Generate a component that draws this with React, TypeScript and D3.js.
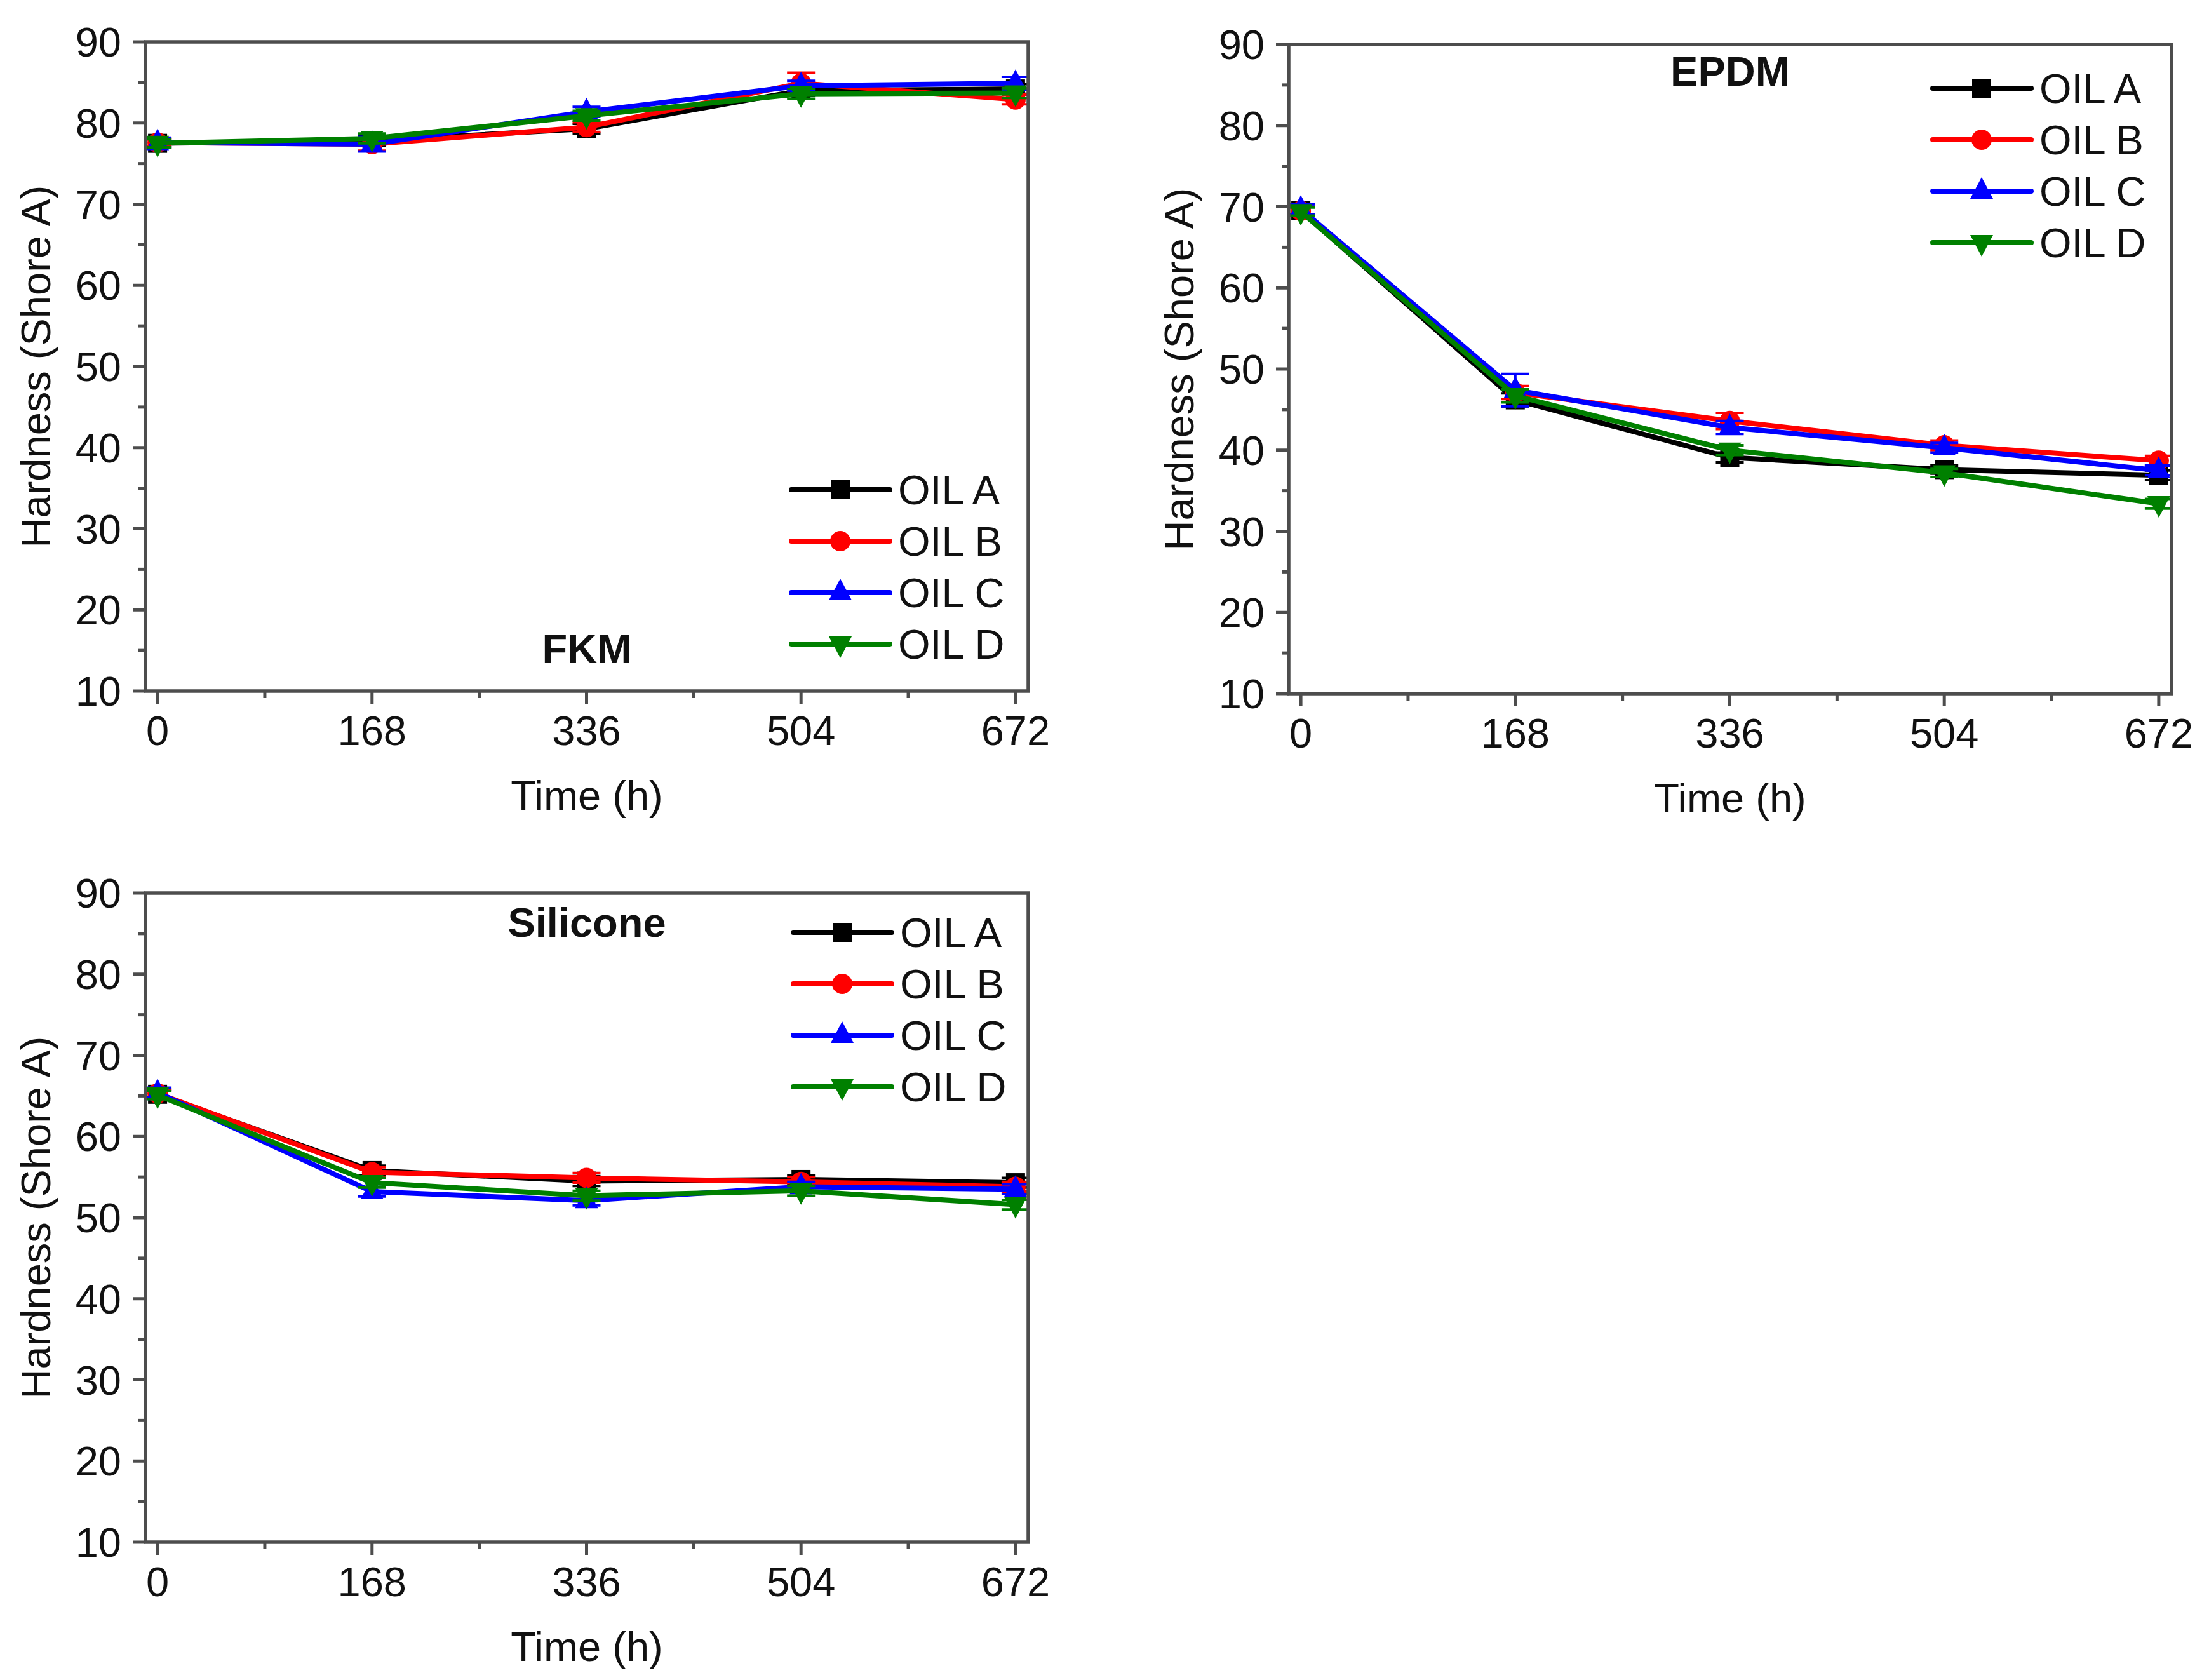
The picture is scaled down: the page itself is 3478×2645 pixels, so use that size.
import React, { useEffect, useRef } from 'react';
import * as d3 from 'd3';

// time points (h)
const times = [0, 168, 336, 504, 672];
const xTicks = [0, 168, 336, 504, 672];
const xMinor = [84, 252, 420, 588];
const yTicks = [10, 20, 30, 40, 50, 60, 70, 80, 90];
const yMinor = [15, 25, 35, 45, 55, 65, 75, 85];
const seriesNames = ['OIL A', 'OIL B', 'OIL C', 'OIL D'];
const seriesColors = ['#000000', '#ff0000', '#0000ff', '#008000'];

// FKM
const fkmA = [77.5, 77.8, 79.3, 84.0, 84.2];
const fkmB = [77.6, 77.4, 79.5, 84.9, 82.9];
const fkmC = [77.6, 77.4, 81.4, 84.6, 84.9];
const fkmD = [77.5, 78.1, 80.9, 83.6, 83.7];
const fkmErrA = [0.5, 0.6, 0.6, 0.6, 0.6];
const fkmErrB = [0.5, 0.8, 0.6, 1.3, 0.6];
const fkmErrC = [0.6, 0.9, 0.6, 0.6, 0.8];
const fkmErrD = [0.5, 0.6, 0.6, 0.6, 0.6];

// EPDM
const epdmA = [69.5, 46.2, 39.1, 37.6, 36.9];
const epdmB = [69.5, 47.1, 43.6, 40.6, 38.7];
const epdmC = [69.7, 47.4, 42.8, 40.3, 37.5];
const epdmD = [69.4, 46.7, 40.0, 37.2, 33.4];
const epdmErrA = [0.5, 0.8, 0.6, 0.5, 0.6];
const epdmErrB = [0.5, 0.8, 1.0, 0.6, 0.6];
const epdmErrC = [0.6, 2.0, 0.8, 0.6, 0.6];
const epdmErrD = [0.5, 0.8, 0.6, 0.5, 0.6];

// Silicone
const silA = [65.2, 55.8, 54.5, 54.7, 54.3];
const silB = [65.3, 55.6, 54.9, 54.4, 53.8];
const silC = [65.4, 53.2, 52.1, 53.8, 53.5];
const silD = [65.1, 54.3, 52.7, 53.3, 51.6];
const silErrA = [0.5, 0.6, 0.6, 0.5, 0.6];
const silErrB = [0.5, 0.6, 0.6, 0.6, 0.6];
const silErrC = [0.6, 0.6, 0.6, 0.6, 0.6];
const silErrD = [0.5, 0.6, 0.6, 0.6, 0.6];

const W = 1390;
const H = 1022;
const FONT = 'Arial, "Liberation Sans", sans-serif';
const FS = 65;
const AXIS_COLOR = '#4d4d4d';

const panels = [
  { name: 'FKM', left: 229, top: 66, series: [fkmA, fkmB, fkmC, fkmD], errs: [fkmErrA, fkmErrB, fkmErrC, fkmErrD], legendX: 1017, legendY: 705, titleY: 978 },
  { name: 'EPDM', left: 2029, top: 70, series: [epdmA, epdmB, epdmC, epdmD], errs: [epdmErrA, epdmErrB, epdmErrC, epdmErrD], legendX: 1014, legendY: 69, titleY: 65 },
  { name: 'Silicone', left: 229, top: 1406, series: [silA, silB, silC, silD], errs: [silErrA, silErrB, silErrC, silErrD], legendX: 1020, legendY: 62, titleY: 69 },
];

// marker path for each series (square, circle, up triangle, down triangle)
const markerPath = (i: number) => {
  if (i === 0) return 'M-15,-15H15V15H-15Z';
  if (i === 1) return d3.symbol(d3.symbolCircle, Math.PI * 16 * 16)() as string;
  if (i === 2) return 'M0,-22L18,12L-18,12Z';
  return 'M0,22L18,-12L-18,-12Z';
};

const App: React.FC = () => {
  const svgRef = useRef<SVGSVGElement | null>(null);

  useEffect(() => {
    const svg = d3.select(svgRef.current);
    svg.selectAll('*').remove();

    panels.forEach((p) => {
      const x = d3.scaleLinear().domain([-9.5, 682]).range([0, W]);
      const y = d3.scaleLinear().domain([10, 90]).range([H, 0]);
      const g = svg.append('g').attr('transform', `translate(${p.left},${p.top})`);

      // ticks (outward)
      g.selectAll('.xt').data(xTicks).enter().append('line')
        .attr('x1', d => x(d)).attr('x2', d => x(d)).attr('y1', H).attr('y2', H + 20)
        .attr('stroke', AXIS_COLOR).attr('stroke-width', 5);
      g.selectAll('.xm').data(xMinor).enter().append('line')
        .attr('x1', d => x(d)).attr('x2', d => x(d)).attr('y1', H).attr('y2', H + 11)
        .attr('stroke', AXIS_COLOR).attr('stroke-width', 5);
      g.selectAll('.yt').data(yTicks).enter().append('line')
        .attr('x1', -20).attr('x2', 0).attr('y1', d => y(d)).attr('y2', d => y(d))
        .attr('stroke', AXIS_COLOR).attr('stroke-width', 5);
      g.selectAll('.ym').data(yMinor).enter().append('line')
        .attr('x1', -11).attr('x2', 0).attr('y1', d => y(d)).attr('y2', d => y(d))
        .attr('stroke', AXIS_COLOR).attr('stroke-width', 5);

      // tick labels
      g.selectAll('.xl').data(xTicks).enter().append('text')
        .attr('x', d => x(d)).attr('y', H + 85)
        .attr('text-anchor', 'middle').attr('font-family', FONT).attr('font-size', FS).attr('fill', '#111')
        .text(d => String(d));
      g.selectAll('.yl').data(yTicks).enter().append('text')
        .attr('x', -38).attr('y', d => y(d) + 23)
        .attr('text-anchor', 'end').attr('font-family', FONT).attr('font-size', FS).attr('fill', '#111')
        .text(d => String(d));

      // axis titles
      g.append('text')
        .attr('x', W / 2).attr('y', H + 187)
        .attr('text-anchor', 'middle').attr('font-family', FONT).attr('font-size', FS).attr('fill', '#111')
        .text('Time (h)');
      g.append('text')
        .attr('transform', `translate(-150,${H / 2}) rotate(-90)`)
        .attr('text-anchor', 'middle').attr('font-family', FONT).attr('font-size', FS).attr('fill', '#111')
        .text('Hardness (Shore A)');

      // series
      const line = d3.line<number>().x((_, i) => x(times[i])).y(d => y(d));
      p.series.forEach((vals, si) => {
        const color = seriesColors[si];
        const errs = p.errs[si];
        const sg = g.append('g');
        sg.append('path').datum(vals)
          .attr('d', line).attr('fill', 'none').attr('stroke', color)
          .attr('stroke-width', 8).attr('stroke-linejoin', 'round');
        // error bars
        vals.forEach((v, i) => {
          const cx = x(times[i]);
          sg.append('line').attr('x1', cx).attr('x2', cx)
            .attr('y1', y(v - errs[i])).attr('y2', y(v + errs[i]))
            .attr('stroke', color).attr('stroke-width', 4);
          [v - errs[i], v + errs[i]].forEach(e => {
            sg.append('line').attr('x1', cx - 22).attr('x2', cx + 22)
              .attr('y1', y(e)).attr('y2', y(e))
              .attr('stroke', color).attr('stroke-width', 4);
          });
        });
        sg.selectAll('.m').data(vals).enter().append('path')
          .attr('d', markerPath(si))
          .attr('transform', (d, i) => `translate(${x(times[i])},${y(d)})`)
          .attr('fill', color);
      });

      // frame
      g.append('rect').attr('x', 0).attr('y', 0).attr('width', W).attr('height', H)
        .attr('fill', 'none').attr('stroke', AXIS_COLOR).attr('stroke-width', 5.5);

      // title
      g.append('text')
        .attr('x', W / 2).attr('y', p.titleY)
        .attr('text-anchor', 'middle').attr('font-family', FONT).attr('font-size', FS)
        .attr('font-weight', 'bold').attr('fill', '#111')
        .text(p.name);

      // legend
      seriesNames.forEach((name, si) => {
        const ly = p.legendY + si * 81;
        const lg = g.append('g').attr('transform', `translate(${p.legendX},${ly})`);
        lg.append('line').attr('x1', 0).attr('x2', 155).attr('y1', 0).attr('y2', 0)
          .attr('stroke', seriesColors[si]).attr('stroke-width', 8).attr('stroke-linecap', 'round');
        lg.append('path').attr('d', markerPath(si)).attr('transform', 'translate(77,0)')
          .attr('fill', seriesColors[si]);
        lg.append('text').attr('x', 168).attr('y', 23)
          .attr('font-family', FONT).attr('font-size', FS).attr('fill', '#111')
          .text(name);
      });
    });
  }, []);

  return (
    <svg
      ref={svgRef}
      width={3478}
      height={2645}
      style={{ position: 'absolute', left: 0, top: 0, background: '#fff' }}
    />
  );
};

export default App;
